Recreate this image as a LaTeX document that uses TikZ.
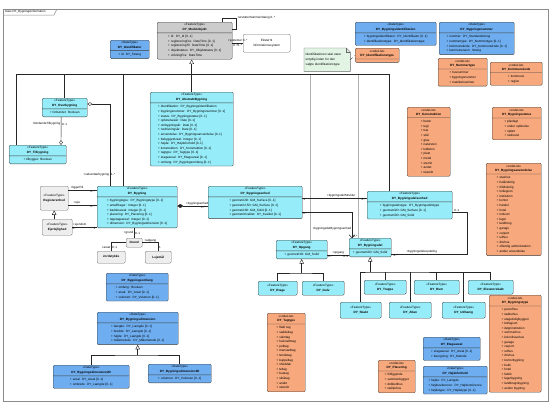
\documentclass[tikz,border=0pt]{standalone}
\usepackage{fontspec}
\setmainfont{Liberation Sans}
\usetikzlibrary{shapes.multipart, arrows.meta, calc}

\definecolor{featurecyan}{RGB}{150,236,248}
\definecolor{datablue}{RGB}{110,174,240}
\definecolor{codeorange}{RGB}{247,168,124}
\definecolor{modelgray}{RGB}{204,204,204}
\definecolor{eksterngray}{RGB}{238,238,238}
\definecolor{notegreen}{RGB}{226,245,228}

\begin{document}
\begin{tikzpicture}[
    x=1pt, y=-1pt,
    >=Latex,
    klasse/.style={
        draw=black!75, rectangle split, rectangle split parts=2,
        anchor=north west, align=center, rounded corners=1.2pt,
        line width=0.35pt, inner xsep=1.5pt, inner ysep=1.5pt,
        font=\fontsize{3.1}{4.6}\selectfont
    },
    feature/.style={klasse, fill=featurecyan},
    datatype/.style={klasse, fill=datablue},
    codelist/.style={klasse, fill=codeorange},
    kort/.style={
        draw=black!75, fill=featurecyan, anchor=north west, align=center,
        rounded corners=1.2pt, line width=0.35pt, inner sep=1pt,
        font=\fontsize{3.1}{4.6}\selectfont
    },
    ekstern/.style={kort, draw=black!55, fill=eksterngray},
    assoc/.style={draw=black!85, line width=0.4pt},
    lys/.style={draw=black!30, line width=0.4pt},
    gen/.style={assoc, -{Triangle[open, length=4.5pt, width=4.5pt]}},
    lbl/.style={font=\fontsize{3}{3.6}\selectfont, inner sep=0.7pt}
]

\fill[white] (0,0) rectangle (552,418);
\useasboundingbox (0,0) rectangle (552,418);

% Frame
\draw[black!45, line width=0.5pt] (3,9) rectangle (548,401);
\draw[black!45, line width=0.5pt] (3,15) -- (54,15) -- (57,9);
\node[lbl, anchor=west] (titel) at (4,12) {class DY\_Bygningsinformation};

% -------------------------
% Top row
% -------------------------

% Modelobjekt (top centre)
\node[klasse, fill=modelgray, text width=72, minimum height=41] (modelobjekt) at (157,22) {
    «FeatureType»\\\textbf{DY\_Modelobjekt}
    \nodepart{second}\raggedright
    \begin{tabular}{@{}l@{}}
    + id: DY\_Id [0..1] \\
    + registreringFra: DateTime [0..1] \\
    + registreringTil: DateTime [0..1] \\
    + objektstatus: DY\_Objektstatus [0..1] \\
    + virkningFra: DateTime
    \end{tabular}
};

\node[ekstern, fill=white, minimum width=47, minimum height=18] (eksternsystem) at (243,34) {
    Eksternt\\informationssystem
};

\node[datatype, text width=36, minimum height=23] (identifikator) at (110,40) {
    «DataType»\\\textbf{DY\_Identifikator}
    \nodepart{second}\raggedright
    \begin{tabular}{@{}l@{}}
    + id: DY\_Streng
    \end{tabular}
};

\node[datatype, text width=78, minimum height=22] (identifikation) at (355,22) {
    «DataType»\\\textbf{DY\_Bygningsidentifikation}
    \nodepart{second}\raggedright
    \begin{tabular}{@{}l@{}}
    + bygningsidentifikator: DY\_Identifikator [0..1] \\
    + identifikationstype: DY\_Identifikationstype
    \end{tabular}
};

\node[datatype, text width=72, minimum height=31] (bygningsnummer) at (439,22) {
    «DataType»\\\textbf{DY\_Bygningsnummer}
    \nodepart{second}\raggedright
    \begin{tabular}{@{}l@{}}
    + nummer: DY\_Standardstreng \\
    + nummertype: DY\_Nummertype [0..1] \\
    + kommunekode: DY\_Kommunekode [0..1] \\
    + kommunenavn: Streng
    \end{tabular}
};

% Note
\node[fill=notegreen, anchor=north west, text width=43, minimum height=23, inner sep=1.5pt,
      align=left, font=\fontsize{3.1}{4.6}\selectfont] (note) at (304,48) {
    Identifikationen skal være\\entydig inden for den\\valgte identifikationstype.
};
\fill[white] ($(note.north east)+(-4,0)$) -- (note.north east) -- ($(note.north east)+(0,4)$) -- cycle;
\draw[black!60, line width=0.35pt] (note.north west) -- ($(note.north east)+(-4,0)$)
    -- ($(note.north east)+(0,4)$) |- (note.south west) -- cycle;
\draw[black!60, line width=0.35pt] ($(note.north east)+(-4,0)$) |- ($(note.north east)+(0,4)$);

\node[codelist, text width=41, minimum height=23] (identifikationstype) at (355,48) {
    «codeList»\\\textbf{DY\_Identifikationstype}
    \nodepart{second}
};

\node[codelist, text width=46, minimum height=28] (nummertype) at (438,58) {
    «codeList»\\\textbf{DY\_Nummertype}
    \nodepart{second}\raggedright
    \begin{tabular}{@{}l@{}}
    + husnummer \\
    + bygningsnummer \\
    + matrikelnummer
    \end{tabular}
};

\node[codelist, text width=49, minimum height=24] (kommunekode) at (490,62) {
    «codeList»\\\textbf{DY\_Kommunekode}
    \nodepart{second}\raggedright
    \begin{tabular}{@{}l@{}}
    + kommune \\
    + region
    \end{tabular}
};

\node[codelist, text width=40, minimum height=76] (konstruktion) at (407,107) {
    «codeList»\\\textbf{DY\_Konstruktion}
    \nodepart{second}\raggedright
    \begin{tabular}{@{}l@{}}
    + beton \\ + tegl \\ + træ \\ + stål \\ + glas \\ + natursten \\
    + letbeton \\ + plast \\ + metal \\ + eternit \\ + andet \\ + ukendt
    \end{tabular}
};

\node[codelist, text width=46, minimum height=31] (bygningsstatus) at (492,107) {
    «codeList»\\\textbf{DY\_Bygningsstatus}
    \nodepart{second}\raggedright
    \begin{tabular}{@{}l@{}}
    + planlagt \\
    + under opførelse \\
    + opført \\
    + nedrevet
    \end{tabular}
};

\node[codelist, text width=52, minimum height=92] (anvendelse) at (486,163) {
    «codeList»\\\textbf{DY\_Bygningsanvendelse}
    \nodepart{second}\raggedright
    \begin{tabular}{@{}l@{}}
    + stuehus \\ + helårsbolig \\ + fritidsbolig \\ + kollegium \\
    + institution \\ + kontor \\ + handel \\ + hotel \\ + industri \\
    + lager \\ + landbrug \\ + garage \\ + carport \\ + udhus \\
    + drivhus \\ + offentlig administration \\ + anden anvendelse
    \end{tabular}
};

% -------------------------
% Feature types
% -------------------------

\node[feature, text width=42, minimum height=27] (overbygning) at (42,98) {
    «FeatureType»\\\textbf{DY\_Overbygning}
    \nodepart{second}\raggedright
    \begin{tabular}{@{}l@{}}
    + forbundet: Boolean
    \end{tabular}
};

\node[feature, text width=54, minimum height=28] (tilbygning) at (9,145) {
    «FeatureType»\\\textbf{DY\_Tilbygning}
    \nodepart{second}\raggedright
    \begin{tabular}{@{}l@{}}
    + tilbygget: Boolean
    \end{tabular}
};

\node[feature, text width=80, minimum height=74] (abstraktbygning) at (150,92) {
    «FeatureType»\\\textbf{DY\_AbstraktBygning}
    \nodepart{second}\raggedright
    \begin{tabular}{@{}l@{}}
    + identifikation: DY\_Bygningsidentifikation \\
    + bygningsnummer: DY\_Bygningsnummer [0..1] \\
    + status: DY\_Bygningsstatus [0..1] \\
    + opførelsesår: Date [0..1] \\
    + ombygningsår: Date [0..1] \\
    + nedrivningsår: Date [0..1] \\
    + anvendelse: DY\_Bygningsanvendelse [0..1] \\
    + bebyggetAreal: Integer [0..1] \\
    + højde: DY\_Højdeforhold [0..1] \\
    + konstruktion: DY\_Konstruktion [0..1] \\
    + tagtype: DY\_Tagtype [0..1] \\
    + etageareal: DY\_Etageareal [0..1] \\
    + omfang: DY\_Bygningsomfang [0..1]
    \end{tabular}
};

\node[feature, text width=77, minimum height=42] (bygning) at (97,186) {
    «FeatureType»\\\textbf{DY\_Bygning}
    \nodepart{second}\raggedright
    \begin{tabular}{@{}l@{}}
    + bygningstype: DY\_Bygningstype [0..1] \\
    + antalEtager: Integer [0..1] \\
    + kælderareal: Integer [0..1] \\
    + placering: DY\_Placering [0..1] \\
    + tagetageareal: Integer [0..1] \\
    + dimension: DY\_Bygningsdimension [0..1]
    \end{tabular}
};

\node[feature, text width=91, minimum height=41] (bygningsenhed) at (208,186) {
    «FeatureType»\\\textbf{DY\_Bygningsenhed}
    \nodepart{second}\raggedright
    \begin{tabular}{@{}l@{}}
    + geometri2D: GM\_Surface [0..1] \\
    + geometri2,5D: GM\_Surface [0..1] \\
    + geometri3D: GM\_Solid [0..1] \\
    + geometriKvalitet: DY\_Kvalitet [0..1]
    \end{tabular}
};

\node[ekstern, minimum width=28, minimum height=24] (registerenhed) at (40,186) {
    «FeatureType»\\\textbf{Registerenhed}
};
\node[ekstern, minimum width=30, minimum height=16] (ejerlejlighed) at (42,219) {
    «FeatureType»\\\textbf{Ejerlejlighed}
};
\node[ekstern, minimum width=16, minimum height=9] (grund) at (126,238) {\textbf{Grund}};
\node[ekstern, minimum width=28, minimum height=12] (jordstykke) at (97,251) {\textbf{Jordstykke}};
\node[ekstern, minimum width=26, minimum height=12] (lejemaal) at (145,251) {\textbf{Lejemål}};

\node[feature, text width=82, minimum height=27] (bygningsdelsenhed) at (367,191) {
    «FeatureType»\\\textbf{DY\_Bygningsdelsenhed}
    \nodepart{second}\raggedright
    \begin{tabular}{@{}l@{}}
    + bygningsdelstype: DY\_Bygningsdelstype \\
    + geometri2D: GM\_Surface [0..1] \\
    + geometri3D: GM\_Solid
    \end{tabular}
};

\node[feature, text width=39, minimum height=25] (bygningsdel) at (349,238) {
    «FeatureType»\\\textbf{DY\_Bygningsdel}
    \nodepart{second}\raggedright
    \begin{tabular}{@{}l@{}}
    + geometri3D: GM\_Solid
    \end{tabular}
};

\node[feature, text width=48, minimum height=21] (opgang) at (276,240) {
    «FeatureType»\\\textbf{DY\_Opgang}
    \nodepart{second}\raggedright
    \begin{tabular}{@{}l@{}}
    + geometri3D: GM\_Solid
    \end{tabular}
};

% Subtypes
\node[kort, minimum width=39, minimum height=14] (etage) at (258,281) {«FeatureType»\\\textbf{DY\_Etage}};
\node[kort, minimum width=42, minimum height=14] (gulv) at (302,281) {«FeatureType»\\\textbf{DY\_Gulv}};
\node[kort, minimum width=42, minimum height=14] (trappe) at (364,280) {«FeatureType»\\\textbf{DY\_Trappe}};
\node[kort, minimum width=45, minimum height=14] (rum) at (414,280) {«FeatureType»\\\textbf{DY\_Rum}};
\node[kort, minimum width=45, minimum height=14] (elevatorskakt) at (468,280) {«FeatureType»\\\textbf{DY\_Elevatorskakt}};
\node[kort, minimum width=41, minimum height=16] (skakt) at (340,302) {«FeatureType»\\\textbf{DY\_Skakt}};
\node[kort, minimum width=42, minimum height=16] (altan) at (389,302) {«FeatureType»\\\textbf{DY\_Altan}};
\node[kort, minimum width=43, minimum height=16] (udhaeng) at (442,302) {«FeatureType»\\\textbf{DY\_Udhæng}};

% -------------------------
% Bottom row
% -------------------------

\node[codelist, text width=35, minimum height=80] (tagtype) at (267,313) {
    «codeList»\\\textbf{DY\_Tagtype}
    \nodepart{second}\raggedright
    \begin{tabular}{@{}l@{}}
    + fladt tag \\ + saddeltag \\ + valmtag \\ + halvvalmtag \\ + pulttag \\
    + mansardtag \\ + tøndetag \\ + kuppeltag \\ + sheddak \\ + teltag \\
    + buetag \\ + skråtag \\ + andet \\ + ukendt
    \end{tabular}
};

\node[codelist, text width=34, minimum height=33] (placering) at (378,360) {
    «codeList»\\\textbf{DY\_Placering}
    \nodepart{second}\raggedright
    \begin{tabular}{@{}l@{}}
    + fritliggende \\ + sammenbygget \\ + dobbelthus \\ + rækkehus
    \end{tabular}
};

\node[codelist, text width=49, minimum height=98] (bygningstype) at (489,295) {
    «codeList»\\\textbf{DY\_Bygningstype}
    \nodepart{second}\raggedright
    \begin{tabular}{@{}l@{}}
    + parcelhus \\ + rækkehus \\ + etageboligbyggeri \\ + kollegium \\
    + døgninstitution \\ + sommerhus \\ + kolonihavehus \\ + garage \\
    + carport \\ + udhus \\ + drivhus \\ + kontorbygning \\ + butik \\
    + hotel \\ + fabrik \\ + lagerbygning \\ + landbrugsbygning \\ + anden bygning
    \end{tabular}
};

\node[datatype, text width=54, minimum height=21] (etageareal) at (423,337) {
    «DataType»\\\textbf{DY\_Etageareal}
    \nodepart{second}\raggedright
    \begin{tabular}{@{}l@{}}
    + etageareal: DY\_Areal [0..1] \\
    + beregning: DY\_Metode
    \end{tabular}
};

\node[datatype, text width=61, minimum height=27] (hoejdeforhold) at (423,366) {
    «DataType»\\\textbf{DY\_Højdeforhold}
    \nodepart{second}\raggedright
    \begin{tabular}{@{}l@{}}
    + højde: DY\_Længde \\
    + højdereference: DY\_Højdereference \\
    + højdetype: DY\_Højdetype [0..1]
    \end{tabular}
};

\node[datatype, text width=59, minimum height=33] (omfang) at (106,273) {
    «DataType»\\\textbf{DY\_Bygningsomfang}
    \nodepart{second}\raggedright
    \begin{tabular}{@{}l@{}}
    + omfang: Boolean \\
    + areal: DY\_Areal [0..1] \\
    + volumen: DY\_Volumen [0..1]
    \end{tabular}
};

\node[datatype, text width=78, minimum height=32] (dimension) at (97,312) {
    «DataType»\\\textbf{DY\_Bygningsdimension}
    \nodepart{second}\raggedright
    \begin{tabular}{@{}l@{}}
    + længde: DY\_Længde [0..1] \\
    + bredde: DY\_Længde [0..1] \\
    + højde: DY\_Længde [0..1] \\
    + målemetode: DY\_Målemetode [0..1]
    \end{tabular}
};

\node[datatype, text width=73, minimum height=28] (dimension2d) at (53,365) {
    «DataType»\\\textbf{DY\_Bygningsdimension2D}
    \nodepart{second}\raggedright
    \begin{tabular}{@{}l@{}}
    + areal: DY\_Areal [0..1] \\
    + omkreds: DY\_Længde [0..1]
    \end{tabular}
};

\node[datatype, text width=60, minimum height=29] (dimension3d) at (148,364) {
    «DataType»\\\textbf{DY\_Bygningsdimension3D}
    \nodepart{second}\raggedright
    \begin{tabular}{@{}l@{}}
    + volumen: DY\_Volumen [0..1]
    \end{tabular}
};

% -------------------------
% Connections
% -------------------------

% generalisation tree to Modelobjekt
\coordinate (fordeler) at (abstraktbygning.north |- 0,74);
\draw[lys] (opgang.north west) ++(34,0) |- (fordeler);
\draw[lys] (bygningsdel.north west) ++(9,0) |- (fordeler);
\draw[assoc] (tilbygning.north west) ++(7,0) |- (fordeler);
\draw[assoc] (overbygning.north) |- (fordeler);
\draw[assoc] (bygning.north west) ++(26,0) |- (fordeler);
\draw[assoc] (bygningsdelsenhed.north west) ++(22,0) |- (fordeler);
\draw[gen] (abstraktbygning.north) -- (abstraktbygning.north |- modelobjekt.south);

% Modelobjekt self link and external system
\draw[assoc] ($(modelobjekt.north east)+(-10,0)$) -- ++(0,-4) -- ++(14,0)
    node[lbl, anchor=west] {+erstatterSammenhæng 0..*} -- ++(0,11) -- ++(-4,0);
\draw[assoc] (modelobjekt.east |- eksternsystem.west) -- (eksternsystem.west)
    node[lbl, pos=0.5, above] {+systemer 0..*}
    node[lbl, pos=0, anchor=north west] {0..*}
    node[lbl, pos=1, anchor=north east] {0..*};

% Overbygning
\draw[assoc, {Diamond[open, length=5pt, width=3.5pt]}-] ($(overbygning.north east)+(0,6)$)
    -| ($(bygning.north west)+(13,0)$)
    node[lbl, pos=0.93, left] {+sekundærbygning}
    node[lbl, pos=0.93, right] {1..*};
\draw[assoc, {Diamond[open, length=5pt, width=3.5pt]}-] ($(tilbygning.north west)+(52,0)$)
    -- ($(overbygning.south)+(-3.5,0)$)
    node[lbl, pos=0.75, left] {+bindendeTilbygning}
    node[lbl, pos=0.75, right] {0..1};

% Bygning to register objects
\draw[assoc] (bygning.west |- 0,190) -- (registerenhed.east |- 0,190)
    node[lbl, pos=0.7, above] {+liggerPå}
    node[lbl, pos=0.15, below] {0..*};
\draw[assoc] (bygning.west |- 0,205) -- (registerenhed.east |- 0,205)
    node[lbl, pos=0.7, above] {+ejer}
    node[lbl, pos=0.15, below] {0..*};
\draw[assoc] (bygning.west |- 0,227) -- (ejerlejlighed.east |- 0,227)
    node[lbl, pos=0.7, above] {+ejendom}
    node[lbl, pos=0.9, below] {0..*}
    node[lbl, pos=0.1, below] {1};
\draw[gen] (registerenhed.south |- ejerlejlighed.north) -- (registerenhed.south);

% Bygning to grund
\draw[assoc] (grund.north) -- (grund.north |- bygning.south)
    node[lbl, pos=0.5, left] {+grund}
    node[lbl, pos=0.5, right] {0..1};
\draw[assoc] (grund.west) -| (jordstykke.north)
    node[lbl, pos=0.8, left] {+areal}
    node[lbl, pos=0.8, right] {0..1};
\draw[assoc] (grund.east) -| (lejemaal.north)
    node[lbl, pos=0.25, above] {+adgang}
    node[lbl, pos=0.8, right] {1};

% Bygning to Bygningsenhed
\draw[assoc, {Diamond[length=6pt, width=4pt]}-] (bygning.east |- 0,206) -- (bygningsenhed.west |- 0,206)
    node[lbl, pos=0.65, above] {+bygningsenhed}
    node[lbl, pos=0.85, below] {1..*};

% Bygningsenhed to Bygningsdelsenhed and Bygningsdel
\draw[assoc] (bygningsenhed.east |- 0,198) -- (bygningsdelsenhed.west |- 0,198)
    node[lbl, pos=0.6, above] {+bygningsdelStruktur}
    node[lbl, pos=0, anchor=north west] {1}
    node[lbl, pos=1, anchor=north east] {0..*};
\draw[assoc, -{Straight Barb[length=3pt]}] (bygningsenhed.east |- 0,212) -| ($(bygningsdel.north west)+(3,0)$)
    node[lbl, pos=0.82, left] {+bygningsdelBygningsenhed}
    node[lbl, pos=0.97, right] {0..*}
    node[lbl, pos=0.03, below] {0..*};

% Bygningsdel and Opgang
\draw[assoc] (bygningsdel.west |- 0,255) -- (opgang.east |- 0,255)
    node[lbl, pos=0.5, above] {+opgang}
    node[lbl, pos=0.85, below] {0..*}
    node[lbl, pos=0.15, below] {0..1};

% Bygningsdelsenhed to Bygningsdel
\draw[assoc] (bygningsdelsenhed.east |- 0,212) -- node[lbl, pos=0.3, above] {0..1} ++(15,0)
    |- (bygningsdel.east |- 0,254)
    node[lbl, pos=0.8, above] {+bygningsdelsopdeling}
    node[lbl, pos=0.97, below] {0..*};

% subtypes of Opgang
\coordinate (opgangfod) at (opgang.south |- 0,273);
\draw[gen] (opgangfod) -- (opgang.south);
\draw[assoc] (etage.north) |- (opgangfod) -| (gulv.north);

% subtypes of Bygningsdel
\coordinate (delfod) at (bygningsdel.south |- 0,272);
\draw[gen] (delfod) -- (bygningsdel.south);
\draw[assoc] (skakt.north) |- (delfod) -| (elevatorskakt.north);
\draw[assoc] (trappe.north) -- (trappe.north |- delfod);
\draw[assoc] (rum.north) -- (rum.north |- delfod);
\draw[assoc] (altan.north) -- (altan.north |- delfod);
\draw[assoc] (udhaeng.north) -- (udhaeng.north |- delfod);

% subtypes of Bygningsdimension
\coordinate (dimensionfod) at (dimension.south |- 0,355);
\draw[gen] (dimensionfod) -- (dimension.south);
\draw[assoc] (dimension2d.north) |- (dimensionfod) -| (dimension3d.north);

% note
\draw[assoc, dashed] (note.east) -- (identifikationstype.west);

\end{tikzpicture}
\end{document}
